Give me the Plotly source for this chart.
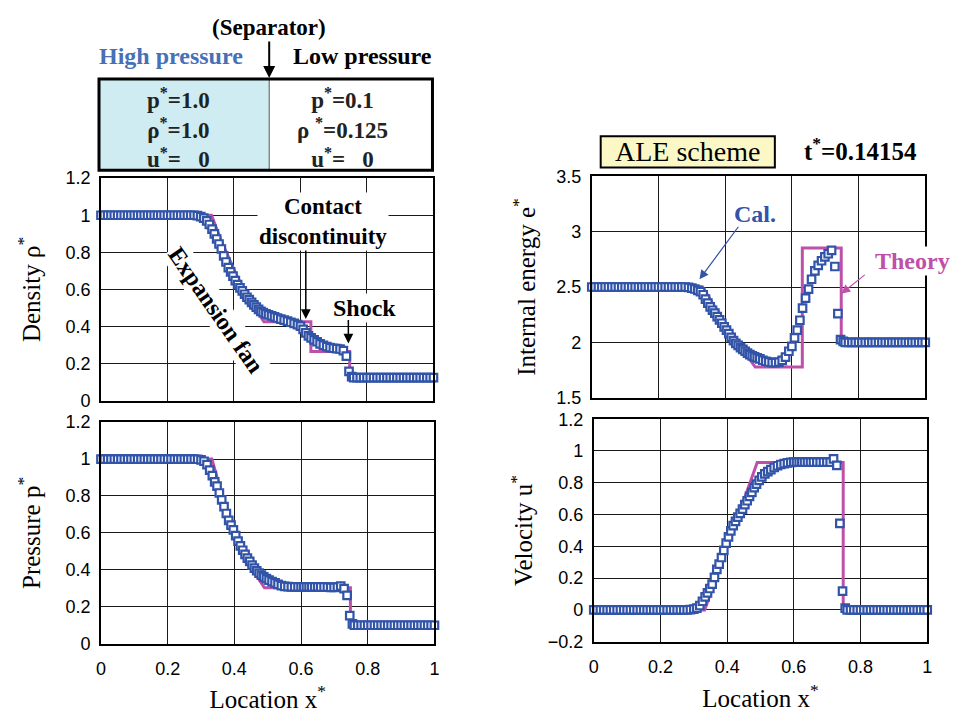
import plotly.graph_objects as go

# ---------------- data ----------------
# computational mesh positions (ALE nodes) shared by all four panels
X = [0.00, 0.01, 0.02, 0.03, 0.04, 0.05, 0.06, 0.07, 0.08, 0.09,
     0.10, 0.11, 0.12, 0.13, 0.14, 0.15, 0.16, 0.17, 0.18, 0.19,
     0.20, 0.21, 0.22, 0.23, 0.24, 0.25, 0.26, 0.27, 0.28, 0.29,
     0.300, 0.309, 0.318, 0.326, 0.334, 0.341, 0.348, 0.355, 0.362, 0.369,
     0.376, 0.383, 0.390, 0.397, 0.404, 0.411, 0.418, 0.425, 0.432, 0.439,
     0.446, 0.453, 0.460, 0.467, 0.474, 0.481, 0.488, 0.496, 0.504, 0.513,
     0.522, 0.531, 0.541, 0.551, 0.561, 0.571, 0.581, 0.591, 0.600, 0.608,
     0.616, 0.624, 0.632, 0.641, 0.650, 0.659, 0.669, 0.679, 0.689, 0.699,
     0.709, 0.719, 0.729, 0.738, 0.746, 0.754,
     0.76, 0.77, 0.78, 0.79, 0.80, 0.81, 0.82, 0.83, 0.84, 0.85,
     0.86, 0.87, 0.88, 0.89, 0.90, 0.91, 0.92, 0.93, 0.94, 0.95,
     0.96, 0.97, 0.98, 0.99, 1.00]

RHO_CAL = [1.0, 1.0, 1.0, 1.0, 1.0, 1.0, 1.0, 1.0, 1.0, 1.0,
           1.0, 1.0, 1.0, 1.0, 1.0, 1.0, 1.0, 1.0, 1.0, 1.0,
           1.0, 1.0, 1.0, 1.0, 1.0, 1.0, 1.0, 1.0, 1.0, 0.998,
           0.993, 0.984, 0.970, 0.950, 0.925, 0.900, 0.872, 0.845, 0.818, 0.781,
           0.748, 0.718, 0.695, 0.672, 0.647, 0.626, 0.608, 0.592, 0.574, 0.558,
           0.545, 0.530, 0.517, 0.505, 0.493, 0.482, 0.475, 0.468, 0.463, 0.457,
           0.452, 0.446, 0.440, 0.435, 0.429, 0.423, 0.417, 0.410, 0.402, 0.385,
           0.366, 0.350, 0.339, 0.328, 0.318, 0.307, 0.299, 0.292, 0.286, 0.283,
           0.281, 0.279, 0.270, 0.240, 0.158, 0.130,
           0.125, 0.125, 0.125, 0.125, 0.125, 0.125, 0.125, 0.125, 0.125, 0.125,
           0.125, 0.125, 0.125, 0.125, 0.125, 0.125, 0.125, 0.125, 0.125, 0.125,
           0.125, 0.125, 0.125, 0.125, 0.125]

P_CAL = [1.0, 1.0, 1.0, 1.0, 1.0, 1.0, 1.0, 1.0, 1.0, 1.0,
         1.0, 1.0, 1.0, 1.0, 1.0, 1.0, 1.0, 1.0, 1.0, 1.0,
         1.0, 1.0, 1.0, 1.0, 1.0, 1.0, 1.0, 1.0, 1.0, 0.999,
         0.996, 0.988, 0.970, 0.940, 0.910, 0.876, 0.853, 0.816, 0.779, 0.742,
         0.705, 0.668, 0.642, 0.616, 0.585, 0.556, 0.530, 0.506, 0.484, 0.464,
         0.446, 0.426, 0.409, 0.395, 0.382, 0.371, 0.362, 0.353, 0.344, 0.336,
         0.329, 0.321, 0.315, 0.311, 0.309, 0.308, 0.308, 0.308, 0.308, 0.308,
         0.308, 0.308, 0.308, 0.308, 0.308, 0.307, 0.307, 0.306, 0.305, 0.305,
         0.306, 0.312, 0.298, 0.262, 0.152, 0.107,
         0.1, 0.1, 0.1, 0.1, 0.1, 0.1, 0.1, 0.1, 0.1, 0.1,
         0.1, 0.1, 0.1, 0.1, 0.1, 0.1, 0.1, 0.1, 0.1, 0.1,
         0.1, 0.1, 0.1, 0.1, 0.1]

E_CAL = [2.5, 2.5, 2.5, 2.5, 2.5, 2.5, 2.5, 2.5, 2.5, 2.5,
         2.5, 2.5, 2.5, 2.5, 2.5, 2.5, 2.5, 2.5, 2.5, 2.5,
         2.5, 2.5, 2.5, 2.5, 2.5, 2.5, 2.5, 2.5, 2.5, 2.497,
         2.490, 2.482, 2.470, 2.457, 2.430, 2.390, 2.355, 2.320, 2.290, 2.265,
         2.233, 2.203, 2.173, 2.140, 2.110, 2.080, 2.045, 2.016, 1.992, 1.974,
         1.953, 1.937, 1.920, 1.904, 1.890, 1.878, 1.869, 1.860, 1.851, 1.839,
         1.830, 1.823, 1.818, 1.817, 1.822, 1.838, 1.867, 1.920, 1.965, 2.040,
         2.110, 2.200, 2.310, 2.400, 2.480, 2.570, 2.645, 2.696, 2.737, 2.772,
         2.800, 2.830, 2.685, 2.260, 2.025, 2.010,
         2.0, 2.0, 2.0, 2.0, 2.0, 2.0, 2.0, 2.0, 2.0, 2.0,
         2.0, 2.0, 2.0, 2.0, 2.0, 2.0, 2.0, 2.0, 2.0, 2.0,
         2.0, 2.0, 2.0, 2.0, 2.0]

U_CAL = [0.0, 0.0, 0.0, 0.0, 0.0, 0.0, 0.0, 0.0, 0.0, 0.0,
         0.0, 0.0, 0.0, 0.0, 0.0, 0.0, 0.0, 0.0, 0.0, 0.0,
         0.0, 0.0, 0.0, 0.0, 0.0, 0.0, 0.0, 0.0, 0.0, 0.002,
         0.005, 0.012, 0.028, 0.055, 0.082, 0.108, 0.135, 0.162, 0.205, 0.255,
         0.288, 0.330, 0.375, 0.420, 0.460, 0.497, 0.530, 0.557, 0.584, 0.608,
         0.634, 0.663, 0.687, 0.714, 0.740, 0.770, 0.791, 0.815, 0.837, 0.856,
         0.870, 0.883, 0.896, 0.907, 0.915, 0.920, 0.925, 0.928, 0.930, 0.930,
         0.930, 0.930, 0.930, 0.930, 0.930, 0.930, 0.930, 0.930, 0.930, 0.930,
         0.930, 0.950, 0.910, 0.545, 0.118, 0.012,
         0.0, 0.0, 0.0, 0.0, 0.0, 0.0, 0.0, 0.0, 0.0, 0.0,
         0.0, 0.0, 0.0, 0.0, 0.0, 0.0, 0.0, 0.0, 0.0, 0.0,
         0.0, 0.0, 0.0, 0.0, 0.0]

# theoretical (exact Riemann) profiles
X_TH = [0.0, 0.3326, 0.36, 0.38, 0.40, 0.42, 0.44, 0.46, 0.4901,
        0.6313, 0.6313, 0.748, 0.748, 1.0]
RHO_TH = [1.0, 1.0, 0.870, 0.785, 0.707, 0.634, 0.568, 0.507, 0.426,
          0.426, 0.266, 0.266, 0.125, 0.125]
P_TH = [1.0, 1.0, 0.823, 0.713, 0.615, 0.528, 0.453, 0.387, 0.303,
        0.303, 0.303, 0.303, 0.1, 0.1]
E_TH = [2.5, 2.5, 2.365, 2.270, 2.176, 2.083, 1.994, 1.906, 1.778,
        1.778, 2.853, 2.853, 2.0, 2.0]
U_TH = [0.0, 0.0, 0.162, 0.280, 0.397, 0.515, 0.633, 0.751, 0.927,
        0.927, 0.927, 0.927, 0.0, 0.0]

# initial-condition table text
LEFT_STATE = ["p<sup>*</sup>=1.0", "ρ<sup>*</sup>=1.0", "u<sup>*</sup>=\u00a0\u00a0 0"]
RIGHT_STATE = ["p<sup>*</sup>=0.1", "ρ\u00a0<sup>*</sup>=0.125", "u<sup>*</sup>=\u00a0\u00a0 0"]

# ---------------- styling ----------------
W, H = 955, 713
BLUE = "#3153a8"
MAG = "#be50aa"
SERIF = "Liberation Serif"
SANS = "Liberation Sans"


def px(x):
    return x / W


def py(y):
    return 1 - y / H


fig = go.Figure()

panels = [
    ("x", "y", RHO_TH, RHO_CAL),
    ("x2", "y2", P_TH, P_CAL),
    ("x3", "y3", E_TH, E_CAL),
    ("x4", "y4", U_TH, U_CAL),
]
for xa, ya, th, cal in panels:
    fig.add_trace(go.Scatter(x=X_TH, y=th, mode="lines", xaxis=xa, yaxis=ya,
                             line=dict(color=MAG, width=3), hoverinfo="skip",
                             showlegend=False))
    fig.add_trace(go.Scatter(x=X, y=cal, mode="markers", xaxis=xa, yaxis=ya,
                             cliponaxis=False, showlegend=False,
                             marker=dict(symbol="square", size=7.5, color="white",
                                         line=dict(color=BLUE, width=2.2))))


def ax_style(**kw):
    d = dict(showline=True, linecolor="black", linewidth=1.6, mirror=True,
             showgrid=True, gridcolor="#1a1a1a", gridwidth=1, zeroline=False,
             ticks="", ticklabelstandoff=8,
             tickfont=dict(family=SANS, size=18, color="black"))
    d.update(kw)
    return d


title_font = dict(family=SERIF, size=25, color="black")

fig.update_layout(
    width=W, height=H, margin=dict(l=0, r=0, t=0, b=0),
    paper_bgcolor="white", plot_bgcolor="white", showlegend=False,
    xaxis=ax_style(domain=[px(97), px(433)], range=[0, 1], dtick=0.2,
                   anchor="y", showticklabels=False),
    yaxis=ax_style(domain=[py(402), py(173)], range=[0, 1.2], dtick=0.2,
                   anchor="x", ticklabelstandoff=5,
                   title=dict(text="Density ρ<sup>*</sup>", font=title_font,
                              standoff=18)),
    xaxis2=ax_style(domain=[px(97), px(434)], range=[0, 1], dtick=0.2,
                    anchor="y2",
                    title=dict(text="Location x<sup>*</sup>", font=title_font,
                               standoff=13)),
    yaxis2=ax_style(domain=[py(652), py(424)], range=[0, 1.2], dtick=0.2,
                    anchor="x2", ticklabelstandoff=5,
                    title=dict(text="Pressure p<sup>*</sup>", font=title_font,
                               standoff=18)),
    xaxis3=ax_style(domain=[px(593), px(930)], range=[0, 1], dtick=0.2,
                    anchor="y3", showticklabels=False),
    yaxis3=ax_style(domain=[py(399), py(171)], range=[1.5, 3.5], dtick=0.5,
                    anchor="x3", ticklabelstandoff=5,
                    title=dict(text="Internal energy e<sup>*</sup>",
                               font=title_font, standoff=14)),
    xaxis4=ax_style(domain=[px(595), px(932)], range=[0, 1], dtick=0.2,
                    anchor="y4",
                    title=dict(text="Location x<sup>*</sup>", font=title_font,
                               standoff=13)),
    yaxis4=ax_style(domain=[py(650), py(421)], range=[-0.2, 1.2], dtick=0.2,
                    anchor="x4", ticklabelstandoff=5,
                    title=dict(text="Velocity u<sup>*</sup>", font=title_font,
                               standoff=8)),
)

# ---------------- shapes ----------------
shapes = [
    dict(type="rect", xref="paper", yref="paper", x0=px(95), x1=px(267),
         y0=py(165), y1=py(71), fillcolor="#cfecf2", line=dict(width=0),
         layer="below"),
    dict(type="line", xref="paper", yref="paper", x0=px(267), x1=px(267),
         y0=py(165), y1=py(71), line=dict(color="#555", width=1)),
    dict(type="rect", xref="paper", yref="paper", x0=px(95), x1=px(432),
         y0=py(165), y1=py(71), line=dict(color="black", width=3)),
    dict(type="rect", xref="paper", yref="paper", x0=px(602), x1=px(778),
         y0=py(162), y1=py(130), fillcolor="#fbf8c6",
         line=dict(color="black", width=2)),
]
fig.update_layout(shapes=shapes)

# ---------------- annotations ----------------
ann = []


def txt(x, y, text, size=20, color="black", bold=True, family=SERIF, **kw):
    t = f"<b>{text}</b>" if bold else text
    d = dict(x=px(x), y=py(y), xref="paper", yref="paper", text=t,
             showarrow=False, xanchor="center", yanchor="middle",
             font=dict(family=family, size=size, color=color))
    d.update(kw)
    ann.append(d)


txt(267, 18, "(Separator)", size=23)
txt(168, 47, "High pressure", size=24, color="#4670b8")
txt(361, 47, "Low pressure", size=24)
txt(175, 121, "<br>".join(LEFT_STATE), size=23, color="#222")
txt(341, 121, "<br>".join(RIGHT_STATE), size=23, color="#222")
txt(690, 146, "ALE scheme", size=28, bold=False)
txt(865, 143, "t<sup>*</sup>=0.14154", size=25)
txt(321, 218, "Contact<br>discontinuity", size=23, bgcolor="white")
txt(363, 307, "Shock", size=24, bgcolor="white")
txt(213, 309, "Expansion fan", size=24, textangle=55, bgcolor="white")
txt(758, 210, "Cal.", size=24, color=BLUE)
txt(917, 258, "Theory", size=24, color=MAG, bgcolor="white")

# separator arrow
ann.append(dict(x=px(267), y=py(70), xref="paper", yref="paper", text="",
                showarrow=True, ax=0, ay=-38, arrowhead=2, arrowsize=1.2,
                arrowwidth=2, arrowcolor="black"))
# contact discontinuity arrow
ann.append(dict(x=0.616, y=0.44, xref="x", yref="y", text="",
                showarrow=True, ax=0, ay=-70, arrowhead=2, arrowsize=1.3,
                arrowwidth=1.5, arrowcolor="black"))
# shock arrow
ann.append(dict(x=0.744, y=0.309, xref="x", yref="y", text="",
                showarrow=True, ax=0, ay=-25, arrowhead=2, arrowsize=1.3,
                arrowwidth=1.5, arrowcolor="black"))
# Cal. arrow
ann.append(dict(x=0.323, y=2.57, xref="x3", yref="y3", text="",
                showarrow=True, ax=40, ay=-54, arrowhead=2, arrowsize=1.5,
                arrowwidth=1.2, arrowcolor=BLUE))
# Theory arrow
ann.append(dict(x=0.748, y=2.44, xref="x3", yref="y3", text="",
                showarrow=True, ax=25, ay=-20, arrowhead=2, arrowsize=1.5,
                arrowwidth=1.2, arrowcolor=MAG))

fig.update_layout(annotations=ann)

fig.write_html("out.html")
